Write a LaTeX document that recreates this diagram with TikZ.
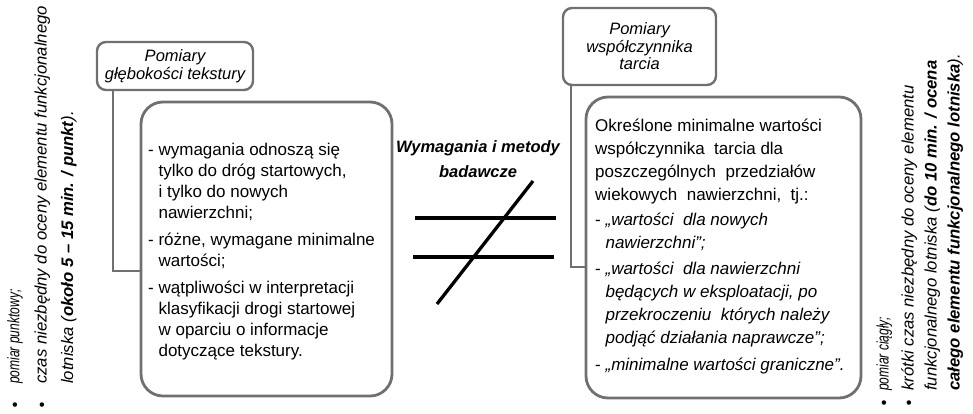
\documentclass[tikz,border=0pt]{standalone}
\usepackage{fontspec}
\usepackage{graphicx}
\setmainfont{Liberation Sans}
\definecolor{framegray}{HTML}{707070}
\begin{document}
\begin{tikzpicture}[x=1pt,y=-1pt,
  headbox/.style={draw=framegray, line width=2.4pt, rounded corners=9pt, inner sep=0pt,
    align=center, font=\fontsize{16.5}{17.5}\selectfont\itshape},
  bodybox/.style={draw=framegray, line width=2.8pt, rounded corners=22pt, inner sep=0pt},
  link/.style={draw=framegray, line width=2.4pt},
  txt/.style={inner sep=0pt, anchor=base west, font=\fontsize{17}{20}\selectfont},
  title/.style={inner sep=0pt, anchor=base, font=\fontsize{16.5}{19}\selectfont\bfseries\itshape},
  side/.style={inner sep=0pt, anchor=base west, rotate=90, font=\fontsize{16.7}{19}\selectfont\itshape},
  dot/.style={inner sep=0pt, font=\fontsize{16.5}{19}\selectfont},
  neq/.style={line width=3.3pt, black}]
\useasboundingbox (0,0) rectangle (973,413);

% boxes
\node[headbox, minimum width=156pt, minimum height=48pt] (depthhead) at (175,66) {Pomiary\\głębokości tekstury};
\node[bodybox, minimum width=251pt, minimum height=294pt] (depthbody) at (266.5,249) {};
\node[headbox, minimum width=153pt, minimum height=77pt] (frichead) at (639.5,46.5) {Pomiary\\współczynnika\\tarcia};
\node[bodybox, minimum width=275pt, minimum height=301pt] (fricbody) at (723.5,247.5) {};

% elbow connectors from the headings to their boxes
\coordinate (depthbend) at (113,271);
\draw[link] (depthbend |- depthhead.south) -- (depthbend) -- (depthbend -| depthbody.west);
\coordinate (fricbend) at (571,267);
\draw[link] (fricbend |- frichead.south) -- (fricbend) -- (fricbend -| fricbody.west);

% texture depth requirements
\foreach \ypos/\words [count=\i] in {
  150/{- wymagania odnoszą się},
  171/{\hphantom{- }tylko do dróg startowych,},
  192/{\hphantom{- }i tylko do nowych},
  213/{\hphantom{- }nawierzchni;},
  240/{- różne, wymagane minimalne},
  261/{\hphantom{- }wartości;},
  288/{- wątpliwości w interpretacji},
  309/{\hphantom{- }klasyfikacji drogi startowej},
  330/{\hphantom{- }w oparciu o informacje},
  351/{\hphantom{- }dotyczące tekstury.}}
  \node[txt, name=depthline\i] at (148,\ypos+5) {\words};

% friction coefficient requirements
\foreach \ypos/\words [count=\i] in {
  126/{Określone minimalne wartości},
  149/{współczynnika\ \ tarcia dla},
  172/{poszczególnych\ \ przedziałów},
  195/{wiekowych\ \ nawierzchni,\ \ tj.:},
  220/{- \textit{„wartości\ \ dla nowych}},
  243/{\hphantom{- }\textit{nawierzchni”;}},
  269/{- \textit{„wartości\ \ dla nawierzchni}},
  292/{\hphantom{- }\textit{będących w eksploatacji, po}},
  315/{\hphantom{- }\textit{przekroczeniu\ \ których należy}},
  338/{\hphantom{- }\textit{podjąć działania naprawcze”;}},
  365/{- \textit{„minimalne wartości graniczne”.}}}
  \node[txt, name=fricline\i] at (595,\ypos+5) {\words};

% central label and not-equal sign
\node[title] (topicA) at (478,152) {Wymagania i metody};
\node[title] (topicB) at (478,177) {badawcze};
\draw[neq] (415,218) -- (556,218);
\draw[neq] (413,257) -- (554,257);
\draw[neq] (437,304) -- (533,181);

% side notes, texture depth
\node[dot] (depthdotA) at (15,407) {•};
\node[dot] (depthdotB) at (42,407) {•};
\node[side] (depthnoteA) at (19.5,384) {\scalebox{0.72}[1]{pomiar punktowy;}};
\node[side] (depthnoteB) at (46.5,384) {czas niezbędny do oceny elementu funkcjonalnego};
\node[side] (depthnoteC) at (73,384) {lotniska (\textbf{około 5 – 15 min. / punkt}).};

% side notes, friction coefficient
\node[dot] (fricdotA) at (884,405) {•};
\node[dot] (fricdotB) at (909,405) {•};
\node[side] (fricnoteA) at (888.5,391) {\scalebox{0.72}[1]{pomiar ciągły;}};
\node[side] (fricnoteB) at (913.5,391) {krótki czas niezbędny do oceny elementu};
\node[side] (fricnoteC) at (936.5,391) {funkcjonalnego lotniska (\textbf{do 10 min. / ocena}};
\node[side] (fricnoteD) at (959.5,391) {\textbf{całego elementu funkcjonalnego lotniska}).};
\end{tikzpicture}
\end{document}
